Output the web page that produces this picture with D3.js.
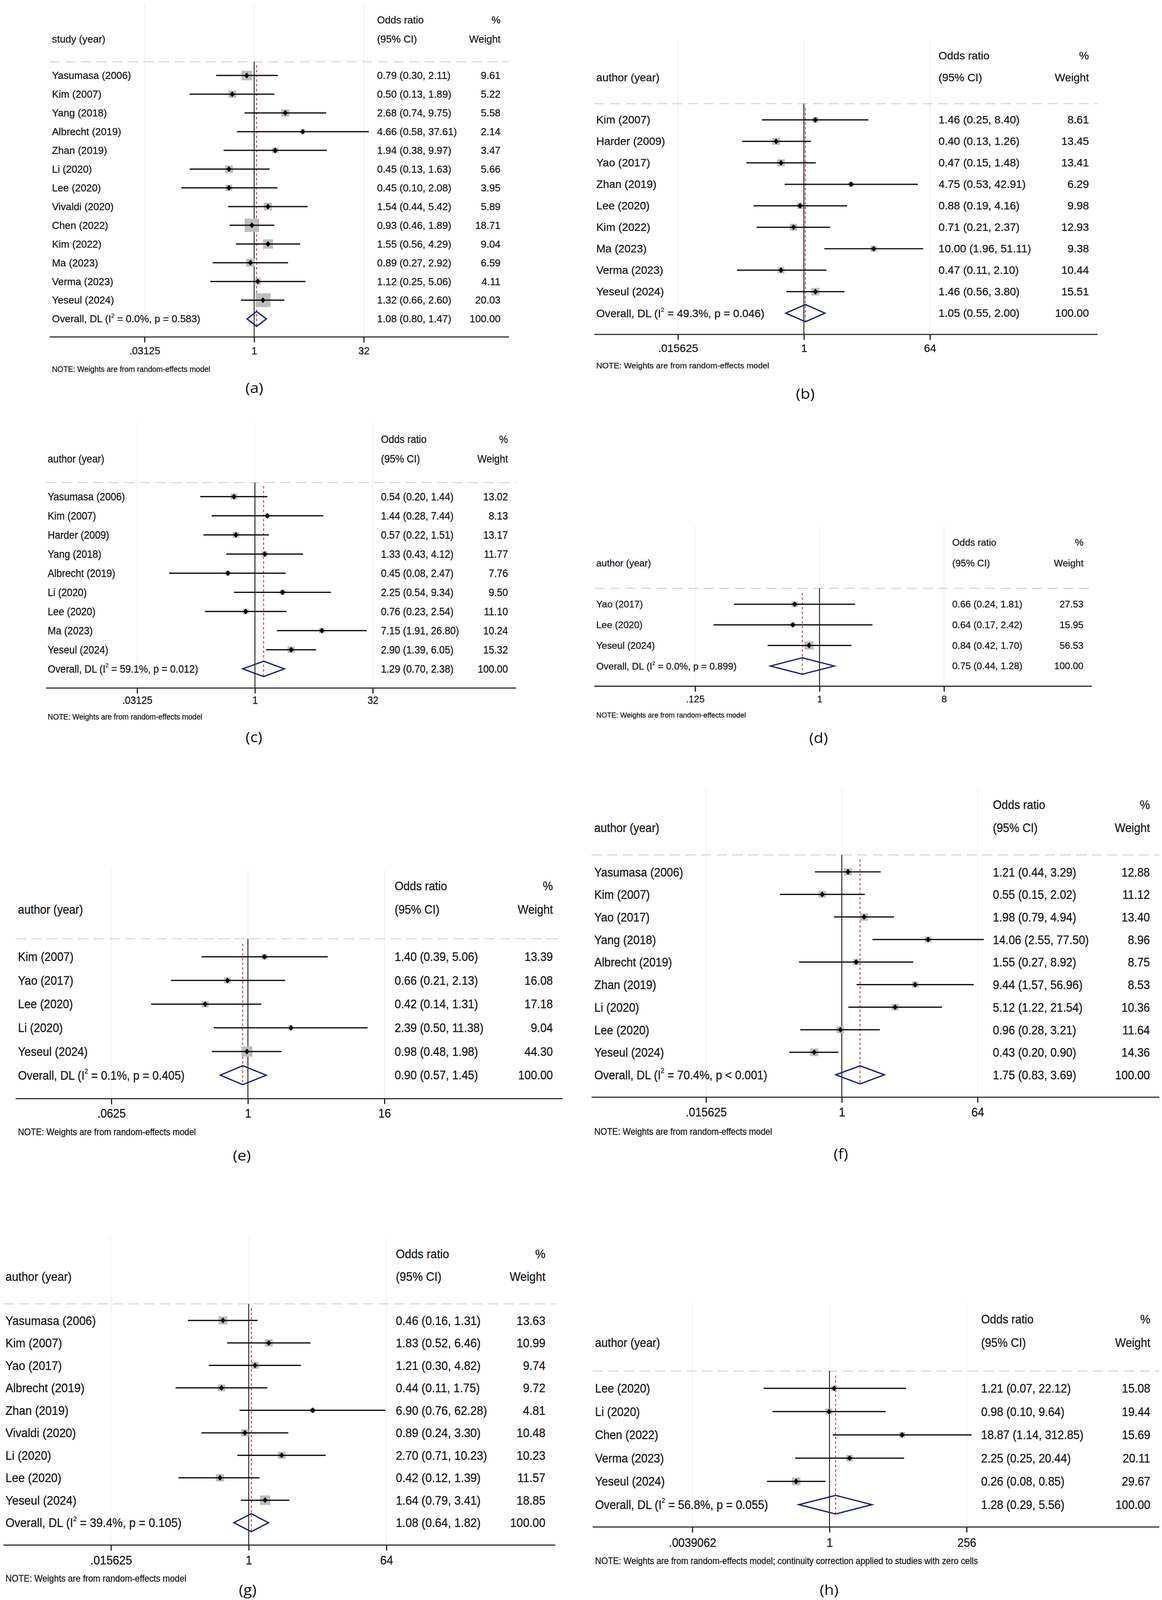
<!DOCTYPE html>
<html>
<head>
<meta charset="utf-8">
<script src="https://cdn.jsdelivr.net/npm/d3@7"></script>
<style>
  html, body { margin: 0; padding: 0; background: #fff; overflow: hidden; }
  svg { display: block; width: 100vw; height: 100vh; }
  text { font-family: "Liberation Sans", Arial, sans-serif; fill: #161616; stroke: #161616; stroke-width: 0.35px; }
  .plabel { font-family: "Open Sans", "Liberation Sans", sans-serif; fill: #111; stroke: none; }
</style>
</head>
<body>
<div id="chart"></div>
<script>
// ---- data ----
const studiesA = ["Yasumasa (2006)", "Kim (2007)", "Yang (2018)", "Albrecht (2019)", "Zhan (2019)", "Li (2020)", "Lee (2020)", "Vivaldi (2020)", "Chen (2022)", "Kim (2022)", "Ma (2023)", "Verma (2023)", "Yeseul (2024)"];
const orA = [0.79, 0.50, 2.68, 4.66, 1.94, 0.45, 0.45, 1.54, 0.93, 1.55, 0.89, 1.12, 1.32];
const loA = [0.30, 0.13, 0.74, 0.58, 0.38, 0.13, 0.10, 0.44, 0.46, 0.56, 0.27, 0.25, 0.66];
const hiA = [2.11, 1.89, 9.75, 37.61, 9.97, 1.63, 2.08, 5.42, 1.89, 4.29, 2.92, 5.06, 2.60];
const wtA = [9.61, 5.22, 5.58, 2.14, 3.47, 5.66, 3.95, 5.89, 18.71, 9.04, 6.59, 4.11, 20.03];

const studiesB = ["Kim (2007)", "Harder (2009)", "Yao (2017)", "Zhan (2019)", "Lee (2020)", "Kim (2022)", "Ma (2023)", "Verma (2023)", "Yeseul (2024)"];
const orB = [1.46, 0.40, 0.47, 4.75, 0.88, 0.71, 10.00, 0.47, 1.46];
const loB = [0.25, 0.13, 0.15, 0.53, 0.19, 0.21, 1.96, 0.11, 0.56];
const hiB = [8.40, 1.26, 1.48, 42.91, 4.16, 2.37, 51.11, 2.10, 3.80];
const wtB = [8.61, 13.45, 13.41, 6.29, 9.98, 12.93, 9.38, 10.44, 15.51];

const studiesC = ["Yasumasa (2006)", "Kim (2007)", "Harder (2009)", "Yang (2018)", "Albrecht (2019)", "Li (2020)", "Lee (2020)", "Ma (2023)", "Yeseul (2024)"];
const orC = [0.54, 1.44, 0.57, 1.33, 0.45, 2.25, 0.76, 7.15, 2.90];
const loC = [0.20, 0.28, 0.22, 0.43, 0.08, 0.54, 0.23, 1.91, 1.39];
const hiC = [1.44, 7.44, 1.51, 4.12, 2.47, 9.34, 2.54, 26.80, 6.05];
const wtC = [13.02, 8.13, 13.17, 11.77, 7.76, 9.50, 11.10, 10.24, 15.32];

const studiesD = ["Yao (2017)", "Lee (2020)", "Yeseul (2024)"];
const orD = [0.66, 0.64, 0.84];
const loD = [0.24, 0.17, 0.42];
const hiD = [1.81, 2.42, 1.70];
const wtD = [27.53, 15.95, 56.53];

const studiesE = ["Kim (2007)", "Yao (2017)", "Lee (2020)", "Li (2020)", "Yeseul (2024)"];
const orE = [1.40, 0.66, 0.42, 2.39, 0.98];
const loE = [0.39, 0.21, 0.14, 0.50, 0.48];
const hiE = [5.06, 2.13, 1.31, 11.38, 1.98];
const wtE = [13.39, 16.08, 17.18, 9.04, 44.30];

const studiesF = ["Yasumasa (2006)", "Kim (2007)", "Yao (2017)", "Yang (2018)", "Albrecht (2019)", "Zhan (2019)", "Li (2020)", "Lee (2020)", "Yeseul (2024)"];
const orF = [1.21, 0.55, 1.98, 14.06, 1.55, 9.44, 5.12, 0.96, 0.43];
const loF = [0.44, 0.15, 0.79, 2.55, 0.27, 1.57, 1.22, 0.28, 0.20];
const hiF = [3.29, 2.02, 4.94, 77.50, 8.92, 56.96, 21.54, 3.21, 0.90];
const wtF = [12.88, 11.12, 13.40, 8.96, 8.75, 8.53, 10.36, 11.64, 14.36];

const studiesG = ["Yasumasa (2006)", "Kim (2007)", "Yao (2017)", "Albrecht (2019)", "Zhan (2019)", "Vivaldi (2020)", "Li (2020)", "Lee (2020)", "Yeseul (2024)"];
const orG = [0.46, 1.83, 1.21, 0.44, 6.90, 0.89, 2.70, 0.42, 1.64];
const loG = [0.16, 0.52, 0.30, 0.11, 0.76, 0.24, 0.71, 0.12, 0.79];
const hiG = [1.31, 6.46, 4.82, 1.75, 62.28, 3.30, 10.23, 1.39, 3.41];
const wtG = [13.63, 10.99, 9.74, 9.72, 4.81, 10.48, 10.23, 11.57, 18.85];

const studiesH = ["Lee (2020)", "Li (2020)", "Chen (2022)", "Verma (2023)", "Yeseul (2024)"];
const orH = [1.21, 0.98, 18.87, 2.25, 0.26];
const loH = [0.07, 0.10, 1.14, 0.25, 0.08];
const hiH = [22.12, 9.64, 312.85, 20.44, 0.85];
const wtH = [15.08, 19.44, 15.69, 20.11, 29.67];

// pooled estimate (OR, lower, upper) and heterogeneity, panels a..h
const pooledOR = [1.08, 1.05, 1.29, 0.75, 0.90, 1.75, 1.08, 1.28];
const pooledLo = [0.80, 0.55, 0.70, 0.44, 0.57, 0.83, 0.64, 0.29];
const pooledHi = [1.47, 2.00, 2.38, 1.28, 1.45, 3.69, 1.82, 5.56];
const i2 = ["0.0", "49.3", "59.1", "0.0", "0.1", "70.4", "39.4", "56.8"];
const pHet = ["p = 0.583", "p = 0.046", "p = 0.012", "p = 0.899", "p = 0.405", "p < 0.001", "p = 0.105", "p = 0.055"];

// axis ticks
const ticks32 = [1 / 32, 1, 32], ticks32Lab = [".03125", "1", "32"];
const ticks64 = [1 / 64, 1, 64], ticks64Lab = [".015625", "1", "64"];
const ticks8 = [1 / 8, 1, 8], ticks8Lab = [".125", "1", "8"];
const ticks16 = [1 / 16, 1, 16], ticks16Lab = [".0625", "1", "16"];
const ticks256 = [1 / 256, 1, 256], ticks256Lab = [".0039062", "1", "256"];

const firstCol = ["study (year)", "author (year)", "author (year)", "author (year)", "author (year)", "author (year)", "author (year)", "author (year)"];
const noteShort = "NOTE: Weights are from random-effects model";
const noteLong = "NOTE: Weights are from random-effects model; continuity correction applied to studies with zero cells";

// ---- layout of each panel on the page (pixels) ----
const panels = [
  { tag: "(a)", s: studiesA, or: orA, lo: loA, hi: hiA, wt: wtA, tv: ticks32, tl: ticks32Lab, note: noteShort,
    left: 133, ci: 965, wtR: 1281, ax0: 127, ax1: 1303, t0: 370, t1: 931, labX: 651,
    h1: 55, h2: 108, dash: 171, r0: 209, r1: 883, axis: 933, tick: 971, noteY: 1022, labY: 1072, fs: 25.9, ys: 1.08, k: 8.55 },
  { tag: "(b)", s: studiesB, or: orB, lo: loB, hi: hiB, wt: wtB, tv: ticks64, tl: ticks64Lab, note: noteShort,
    left: 1526, ci: 2402, wtR: 2787, ax0: 1521, ax1: 2809, t0: 1735, t1: 2380, labX: 2061,
    h1: 154, h2: 215, dash: 287, r0: 332, r1: 867, axis: 926, tick: 964, noteY: 1012, labY: 1089, fs: 28.3, ys: 1.06, k: 5.33 },
  { tag: "(c)", s: studiesC, or: orC, lo: loC, hi: hiC, wt: wtC, tv: ticks32, tl: ticks32Lab, note: noteShort,
    left: 122, ci: 975, wtR: 1300, ax0: 118, ax1: 1321, t0: 351, t1: 954, labX: 650,
    h1: 1216, h2: 1270, dash: 1336, r0: 1375, r1: 1852, axis: 1905, tick: 1939, noteY: 1984, labY: 2039, fs: 25.3, ys: 1.15, k: 4.6 },
  { tag: "(d)", s: studiesD, or: orD, lo: loD, hi: hiD, wt: wtD, tv: ticks8, tl: ticks8Lab, note: noteShort,
    left: 1526, ci: 2437, wtR: 2773, ax0: 1521, ax1: 2794, t0: 1779, t1: 2416, labX: 2095,
    h1: 1502, h2: 1559, dash: 1629, r0: 1673, r1: 1844, axis: 1900, tick: 1935, noteY: 1980, labY: 2042, fs: 24.5, ys: 1.07, k: 3.06 },
  { tag: "(e)", s: studiesE, or: orE, lo: loE, hi: hiE, wt: wtE, tv: ticks16, tl: ticks16Lab, note: noteShort,
    left: 46, ci: 1010, wtR: 1415, ax0: 40, ax1: 1440, t0: 285, t1: 984, labX: 619,
    h1: 2453, h2: 2518, dash: 2599, r0: 2649, r1: 2977, axis: 3042, tick: 3083, noteY: 3135, labY: 3198, fs: 29.1, ys: 1.16, k: 4.2 },
  { tag: "(f)", s: studiesF, or: orF, lo: loF, hi: hiF, wt: wtF, tv: ticks64, tl: ticks64Lab, note: noteShort,
    left: 1521, ci: 2541, wtR: 2943, ax0: 1514, ax1: 2967, t0: 1807, t1: 2502, labX: 2152,
    h1: 2227, h2: 2291, dash: 2367, r0: 2414, r1: 2976, axis: 3038, tick: 3079, noteY: 3133, labY: 3193, fs: 29.1, ys: 1.19, k: 5.6 },
  { tag: "(g)", s: studiesG, or: orG, lo: loG, hi: hiG, wt: wtG, tv: ticks64, tl: ticks64Lab, note: noteShort,
    left: 14, ci: 1013, wtR: 1396, ax0: 9, ax1: 1421, t0: 284, t1: 989, labX: 634,
    h1: 3471, h2: 3534, dash: 3610, r0: 3656, r1: 4216, axis: 4278, tick: 4319, noteY: 4370, labY: 4400, fs: 29.6, ys: 1.15, k: 6.1 },
  { tag: "(h)", s: studiesH, or: orH, lo: loH, hi: hiH, wt: wtH, tv: ticks256, tl: ticks256Lab, note: noteLong,
    left: 1523, ci: 2511, wtR: 2944, ax0: 1517, ax1: 2967, t0: 1772, t1: 2474, labX: 2122,
    h1: 3653, h2: 3717, dash: 3796, r0: 3844, r1: 4166, axis: 4228, tick: 4271, noteY: 4322, labY: 4400, fs: 29.1, ys: 1.17, k: 3.9 }
];

const W = 2974, H = 4430;
const f2 = d3.format(".2f");

// the drawing is laid out in reference pixels and fitted to the window
const svg = d3.select("#chart").append("svg")
  .attr("viewBox", `0 0 ${W} ${H}`)
  .attr("preserveAspectRatio", "none");
svg.append("rect").attr("width", W).attr("height", H).attr("fill", "#fff");

// text drawn a bit taller than wide, like the Stata export
function label(g, x, y, str, p, anchor, size) {
  return g.append("text")
    .attr("transform", `translate(${x},${y}) scale(1,${p.ys})`)
    .attr("text-anchor", anchor || "start")
    .attr("dominant-baseline", "central")
    .style("font-size", (size || p.fs) + "px")
    .text(str);
}

panels.forEach((p, pi) => {
  const g = svg.append("g");
  const n = p.s.length;

  const x = d3.scaleLog().base(2)
    .domain([p.tv[0], p.tv[2]])
    .range([p.t0, p.t1]);
  const y = d3.scaleLinear()
    .domain([0, n])
    .range([p.r0, p.r1]);
  const step = (p.r1 - p.r0) / n;

  // faint grid at tick positions
  g.selectAll(".grid").data(p.tv).join("line")
    .attr("x1", d => x(d)).attr("x2", d => x(d))
    .attr("y1", p.h1 - 45).attr("y2", p.axis)
    .attr("stroke", "#f1f1f1").attr("stroke-width", 2);

  // header
  label(g, p.ci, p.h1, "Odds ratio", p);
  label(g, p.wtR, p.h1, "%", p, "end");
  label(g, p.left, p.h2, firstCol[pi], p);
  label(g, p.ci, p.h2, "(95% CI)", p);
  label(g, p.wtR, p.h2, "Weight", p, "end");

  g.append("line")
    .attr("x1", p.ax0).attr("x2", p.ax1)
    .attr("y1", p.dash).attr("y2", p.dash)
    .attr("stroke", "#d6d6d6").attr("stroke-width", 3)
    .attr("stroke-dasharray", "26,14");

  // null line
  g.append("line")
    .attr("x1", x(1)).attr("x2", x(1))
    .attr("y1", p.dash).attr("y2", p.axis)
    .attr("stroke", "#111").attr("stroke-width", 2.2);

  // pooled estimate reference line
  const dh = step * 0.4;
  g.append("line")
    .attr("x1", x(pooledOR[pi])).attr("x2", x(pooledOR[pi]))
    .attr("y1", p.r0 - step * 0.55).attr("y2", y(n) + dh)
    .attr("stroke", "#a3283c").attr("stroke-width", 2)
    .attr("stroke-dasharray", "7,6");

  const rows = p.s.map((name, i) => ({ name, or: p.or[i], lo: p.lo[i], hi: p.hi[i], wt: p.wt[i], i }));

  // weight boxes
  g.selectAll(".box").data(rows).join("rect")
    .attr("x", d => x(d.or) - p.k * Math.sqrt(d.wt) / 2)
    .attr("y", d => y(d.i) - p.k * Math.sqrt(d.wt) / 2)
    .attr("width", d => p.k * Math.sqrt(d.wt))
    .attr("height", d => p.k * Math.sqrt(d.wt))
    .attr("fill", "#bdbdbd");

  // confidence intervals
  g.selectAll(".ci").data(rows).join("line")
    .attr("x1", d => x(d.lo)).attr("x2", d => x(d.hi))
    .attr("y1", d => y(d.i)).attr("y2", d => y(d.i))
    .attr("stroke", "#111").attr("stroke-width", 3.5);

  // point estimates
  g.selectAll(".pt").data(rows).join("path")
    .attr("d", d => {
      const cx = x(d.or), cy = y(d.i), r = 8;
      return `M${cx},${cy - r}L${cx + r * 0.8},${cy}L${cx},${cy + r}L${cx - r * 0.8},${cy}Z`;
    })
    .attr("fill", "#000");

  // pooled diamond
  const oy = y(n);
  g.append("path")
    .attr("d", `M${x(pooledLo[pi])},${oy}L${x(pooledOR[pi])},${oy - dh}L${x(pooledHi[pi])},${oy}L${x(pooledOR[pi])},${oy + dh}Z`)
    .attr("fill", "none")
    .attr("stroke", "#1b1f7a").attr("stroke-width", 3.5);

  // row text
  rows.forEach(d => {
    label(g, p.left, y(d.i), d.name, p);
    label(g, p.ci, y(d.i), `${f2(d.or)} (${f2(d.lo)}, ${f2(d.hi)})`, p);
    label(g, p.wtR, y(d.i), f2(d.wt), p, "end");
  });

  const ov = label(g, p.left, oy, "", p);
  ov.append("tspan").text("Overall, DL (I");
  ov.append("tspan").attr("dy", "-0.62em").style("font-size", "0.55em").text("2");
  ov.append("tspan").attr("dy", "0.34em").text(` = ${i2[pi]}%, ${pHet[pi]})`);
  label(g, p.ci, oy, `${f2(pooledOR[pi])} (${f2(pooledLo[pi])}, ${f2(pooledHi[pi])})`, p);
  label(g, p.wtR, oy, "100.00", p, "end");

  // x axis
  g.append("line")
    .attr("x1", p.ax0).attr("x2", p.ax1)
    .attr("y1", p.axis).attr("y2", p.axis)
    .attr("stroke", "#222").attr("stroke-width", 3);

  const ax = g.append("g")
    .attr("transform", `translate(0,${p.axis})`)
    .call(d3.axisBottom(x).tickValues(p.tv).tickFormat((d, i) => p.tl[i]).tickSize(15));
  ax.select(".domain").remove();
  ax.selectAll(".tick line").attr("stroke", "#222").attr("stroke-width", 3);
  ax.selectAll(".tick text")
    .attr("y", null).attr("dy", null)
    .attr("dominant-baseline", "central")
    .attr("transform", `translate(0,${p.tick - p.axis}) scale(1,${p.ys})`)
    .style("font-size", p.fs + "px")
    .style("font-family", '"Liberation Sans", Arial, sans-serif')
    .attr("fill", "#161616");

  label(g, p.left, p.noteY, p.note, p, "start", p.fs * 0.75);

  g.append("text")
    .attr("class", "plabel")
    .attr("x", p.labX).attr("y", p.labY)
    .attr("text-anchor", "middle")
    .attr("dominant-baseline", "central")
    .style("font-size", "40px")
    .text(p.tag);
});
</script>
</body>
</html>
